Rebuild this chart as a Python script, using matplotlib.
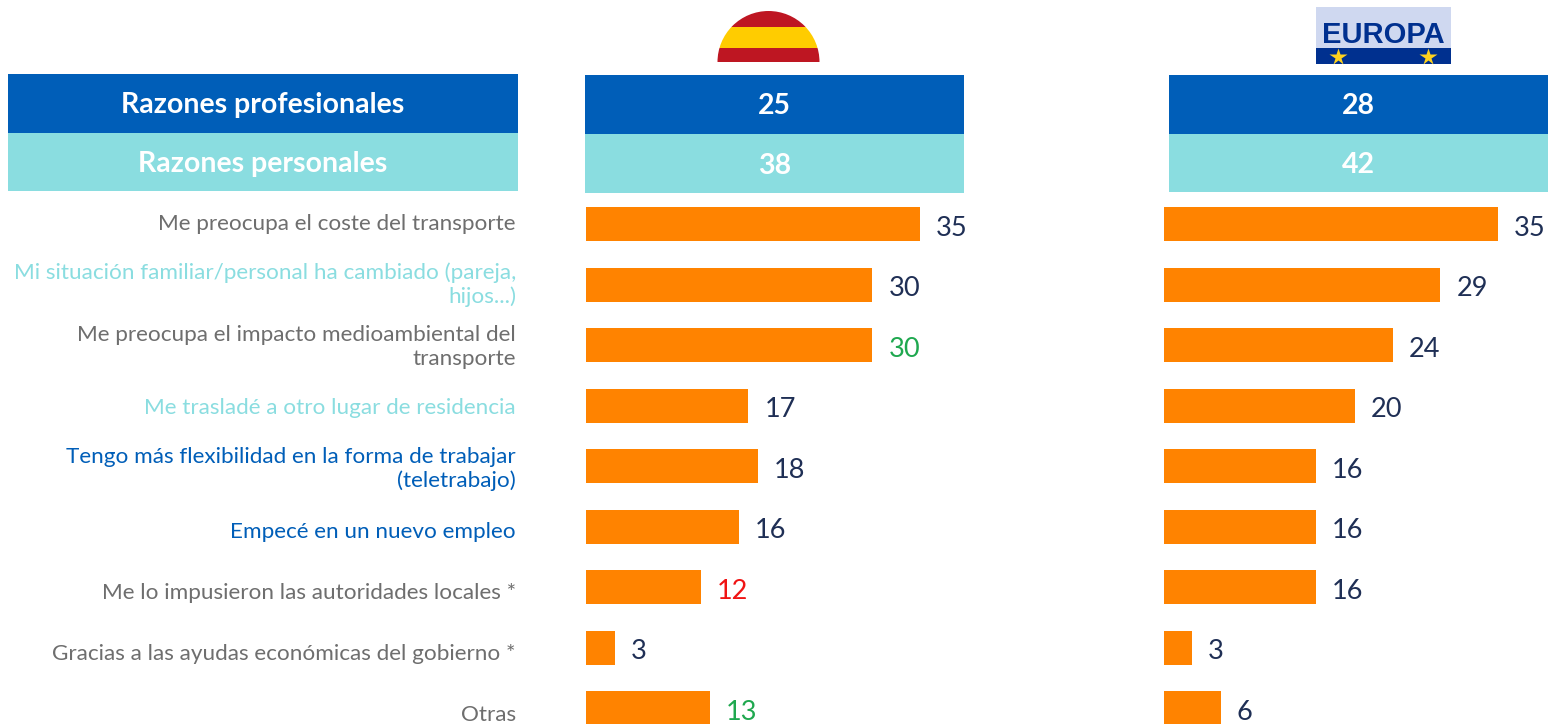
import matplotlib
matplotlib.use("Agg")
import matplotlib.pyplot as plt
from matplotlib.patches import Rectangle, Wedge

W, H = 1549, 724

categories = [
    "Me preocupa el coste del transporte",
    "Mi situación familiar/personal ha cambiado (pareja,\nhijos...)",
    "Me preocupa el impacto medioambiental del\ntransporte",
    "Me trasladé a otro lugar de residencia",
    "Tengo más flexibilidad en la forma de trabajar\n(teletrabajo)",
    "Empecé en un nuevo empleo",
    "Me lo impusieron las autoridades locales *",
    "Gracias a las ayudas económicas del gobierno *",
    "Otras",
]
spain_values = [35, 30, 30, 17, 18, 16, 12, 3, 13]
europe_values = [35, 29, 24, 20, 16, 16, 16, 3, 6]

header_labels = ["Razones profesionales", "Razones personales"]
spain_header = ["25", "38"]
europe_header = ["28", "42"]

BLUE = "#005EB8"
TEAL = "#8ADDE0"
GREY = "#6E6E6E"
ORANGE = "#FF8300"
NAVY = "#1F2F55"
GREEN = "#1FA84F"
RED = "#F01414"

category_colors = [GREY, TEAL, GREY, TEAL, BLUE, BLUE, GREY, GREY, GREY]
spain_colors = [NAVY, NAVY, GREEN, NAVY, NAVY, NAVY, RED, NAVY, GREEN]
europe_colors = [NAVY] * 9

# pixel layout
label_y = [224, 285, 347, 408, 469, 532, 593, 654, 715]
PX_PER_UNIT = 9.55
BAR_STEP = 60.5
BAR_H = 34

plt.rcParams["font.family"] = ["Lato", "DejaVu Sans"]

fig = plt.figure(figsize=(W / 100, H / 100), dpi=100)

# background axes in pixel coordinates for headers, labels and flags
bg = fig.add_axes([0, 0, 1, 1])
bg.set_xlim(0, W)
bg.set_ylim(H, 0)
bg.axis("off")


def header_column(x0, x1, y0, y1, y2, texts, size=20.5):
    bg.add_patch(Rectangle((x0, y0), x1 - x0, y1 - y0, color=BLUE, lw=0))
    bg.add_patch(Rectangle((x0, y1), x1 - x0, y2 - y1, color=TEAL, lw=0))
    for txt, a, b in zip(texts, (y0, y1), (y1, y2)):
        bg.text((x0 + x1) / 2, (a + b) / 2 + 2, txt, color="white", fontsize=size,
                fontweight="bold", ha="center", va="center")


header_column(8, 518, 74, 133, 191, header_labels)
header_column(585, 964, 75, 134, 193, spain_header)
header_column(1169, 1548, 75, 134, 192, europe_header)

for txt, y, c in zip(categories, label_y, category_colors):
    bg.text(516, y, txt, color=c, fontsize=16.2, ha="right", va="center",
            multialignment="right", linespacing=1.2)

# Spanish flag half disc (y axis is inverted, so the top half is 180-360)
for y0, y1, c in [(10, 27, "#BE1622"), (27, 48, "#FFCC00"), (48, 62, "#BE1622")]:
    stripe = Rectangle((715, y0), 107, y1 - y0, color=c, lw=0)
    bg.add_patch(stripe)
    stripe.set_clip_path(Wedge((768.5, 62), 51, 180, 360, transform=bg.transData))

# Europa logo
bg.add_patch(Rectangle((1316, 7), 135, 41, color="#CFD8F0", lw=0))
bg.add_patch(Rectangle((1316, 48), 135, 16, color="#00308F", lw=0))
bg.text(1383.5, 35, "EUROPA", color="#00308F", fontsize=21, fontweight="bold",
        family="Liberation Sans", ha="center", va="center")
bg.plot([1338, 1428], [56.5, 56.5], ls="none", marker="*", ms=13, color="#FFD21E",
        mec="none")


def bar_panel(left_px, values, colors):
    width_px = 385
    ax = fig.add_axes([left_px / W, 0, width_px / W, (H - 194) / H])
    ax.barh(range(len(values)), values, height=BAR_H / BAR_STEP, color=ORANGE)
    ax.set_xlim(0, width_px / PX_PER_UNIT)
    ax.set_ylim((724 - 224) / BAR_STEP, (194 - 224) / BAR_STEP)
    ax.axis("off")
    ax.patch.set_alpha(0)
    for i, (v, c) in enumerate(zip(values, colors)):
        ax.annotate(str(v), (v, i), xytext=(11.5, -3), textcoords="offset points",
                    color=c, fontsize=19.5, ha="left", va="center",
                    annotation_clip=False)


bar_panel(586, spain_values, spain_colors)
bar_panel(1163.5, europe_values, europe_colors)

fig.savefig("out.png", dpi=100)
